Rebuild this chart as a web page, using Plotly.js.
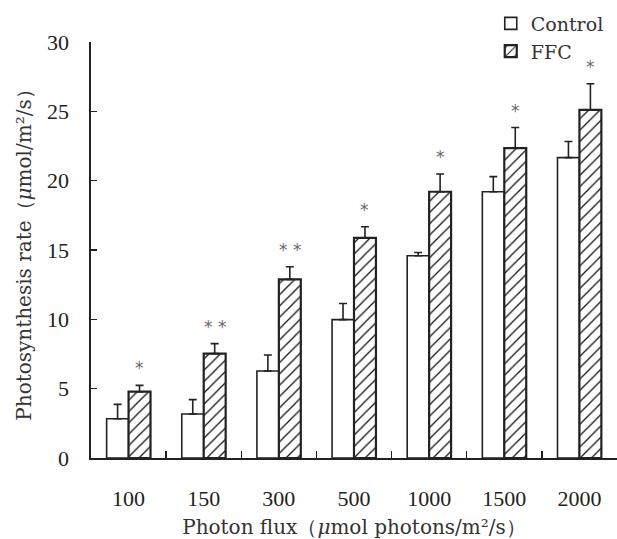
<!DOCTYPE html>
<html>
<head>
<meta charset="utf-8">
<script src="https://cdn.plot.ly/plotly-3.0.1.min.js"></script>
<style>
html, body { margin: 0; padding: 0; background: #fff; }
#chart { width: 617px; height: 539px; }
</style>
</head>
<body>
<div id="chart"></div>
<script>
// Data
var categories = ['100', '150', '300', '500', '1000', '1500', '2000'];
var controlValues = [2.83, 3.17, 6.27, 9.98, 14.58, 19.2, 21.66];
var controlErrors = [1.04, 1.04, 1.16, 1.16, 0.24, 1.09, 1.16];
var ffcValues = [4.78, 7.53, 12.88, 15.88, 19.2, 22.34, 25.11];
var ffcErrors = [0.46, 0.72, 0.91, 0.80, 1.28, 1.49, 1.88];
var significance = ['*', '* *', '* *', '*', '*', '*', '*'];

var zeros = categories.map(function () { return 0; });
var barGap = 0.416;
var ink = '#222222';

var traceControl = {
  type: 'bar',
  name: 'Control',
  x: categories,
  y: controlValues,
  marker: { color: '#ffffff', line: { color: ink, width: 1.6 } },
  error_y: { type: 'data', symmetric: false, array: controlErrors, arrayminus: zeros,
             color: ink, thickness: 1.6, width: 4 },
  hoverinfo: 'skip'
};

var traceFFC = {
  type: 'bar',
  name: 'FFC',
  x: categories,
  y: ffcValues,
  marker: {
    color: '#ffffff',
    line: { color: ink, width: 2.2 },
    pattern: { shape: '/', size: 8, solidity: 0.16, fgcolor: '#111111', fgopacity: 1, bgcolor: '#ffffff', fillmode: 'overlay' }
  },
  error_y: { type: 'data', symmetric: false, array: ffcErrors, arrayminus: zeros,
             color: ink, thickness: 1.6, width: 4 },
  hoverinfo: 'skip'
};

var barOffset = (1 - barGap) / 4;
var annotations = categories.map(function (c, i) {
  return {
    xref: 'x', yref: 'y',
    x: i + barOffset,
    y: ffcValues[i] + ffcErrors[i],
    text: significance[i],
    showarrow: false,
    yanchor: 'bottom',
    yshift: 5,
    font: { family: 'DejaVu Sans', size: 17, color: '#6a6a6a' }
  };
});

var serifTitle = { family: 'DejaVu Serif', size: 20, color: '#333333' };
var tickFont = { family: 'Liberation Serif', size: 22, color: '#222222' };

var layout = {
  width: 617,
  height: 539,
  margin: { l: 91, r: 0, t: 42, b: 81, pad: 0 },
  paper_bgcolor: '#ffffff',
  plot_bgcolor: '#ffffff',
  barmode: 'group',
  bargap: barGap,
  bargroupgap: 0,
  showlegend: true,
  legend: {
    x: 0.76, xanchor: 'left',
    y: 1.09, yanchor: 'top',
    bgcolor: 'rgba(0,0,0,0)',
    font: { family: 'DejaVu Serif', size: 19, color: '#333333' },
    tracegroupgap: 0,
    itemwidth: 30
  },
  xaxis: {
    type: 'category',
    range: [-0.5, 6.5],
    showline: true, linecolor: ink, linewidth: 1.6,
    ticks: 'inside', tickson: 'boundaries', ticklen: 7, tickwidth: 1.3, tickcolor: ink,
    showgrid: false, zeroline: false,
    tickfont: tickFont,
    ticklabelstandoff: 20,
    title: { text: 'Photon flux（<i>μ</i>mol photons/m²/s）', font: serifTitle, standoff: 13 }
  },
  yaxis: {
    range: [0, 30],
    dtick: 5,
    showline: true, linecolor: ink, linewidth: 1.6,
    ticks: 'inside', ticklen: 6, tickwidth: 1.3, tickcolor: ink,
    showgrid: false, zeroline: false,
    tickfont: tickFont,
    ticklabelstandoff: 16,
    title: { text: 'Photosynthesis rate（<i>μ</i>mol/m²/s）', font: serifTitle, standoff: 10 }
  },
  annotations: annotations
};

Plotly.newPlot('chart', [traceControl, traceFFC], layout, { staticPlot: true, displayModeBar: false });
</script>
</body>
</html>
